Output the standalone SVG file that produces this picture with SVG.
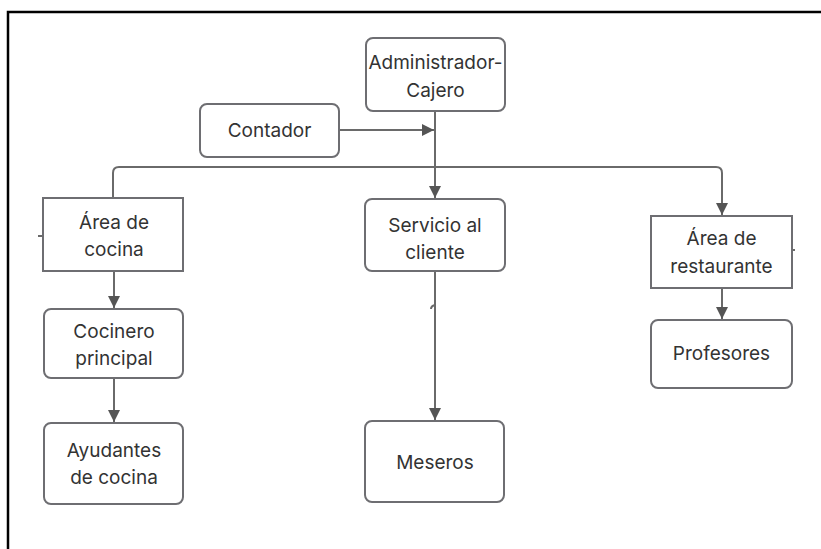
<svg xmlns="http://www.w3.org/2000/svg" width="821" height="549" viewBox="0 0 821 549">
<style>
.box{fill:#fff;stroke:#6e6e72;stroke-width:2}
.t{font-family:Inter,"Liberation Sans",sans-serif;font-size:19px;fill:#333;text-anchor:middle}
.c{fill:none;stroke:#6a6a6a;stroke-width:2}
</style>
<defs>
<marker id="ah" viewBox="0 0 12 12" refX="12" refY="6" markerWidth="12" markerHeight="12" markerUnits="userSpaceOnUse" orient="auto">
<path d="M0,0 L12,6 L0,12 Z" fill="#555"/>
</marker>
</defs>
<rect x="0" y="0" width="821" height="549" fill="#fff"/>
<path d="M8,549 V12 H821" fill="none" stroke="#000" stroke-width="2.5"/>
<g id="connectors">
<path class="c" d="M435,111 V198" marker-end="url(#ah)"/>
<path class="c" d="M339,130 H434" marker-end="url(#ah)"/>
<path class="c" d="M113,198 V173 Q113,167 119,167 H716 Q722,167 722,173 V215" marker-end="url(#ah)"/>
<path class="c" d="M114,271 V308" marker-end="url(#ah)"/>
<path class="c" d="M114,378 V422" marker-end="url(#ah)"/>
<path class="c" d="M435,271 V420" marker-end="url(#ah)"/>
<path class="c" d="M722,288 V319" marker-end="url(#ah)"/>
<path class="c" d="M38,236 H43" stroke-width="1.2"/>
<path class="c" d="M792,250 H795" stroke-width="1.2"/>
<path class="c" d="M435,305 Q431,306 431,309" stroke-width="1.2"/>
</g>
<g id="admin">
<rect class="box" x="366" y="38" width="139" height="73" rx="7"/>
<text class="t" x="435.5" y="69">Administrador-</text>
<text class="t" x="435.5" y="97">Cajero</text>
</g>
<g id="contador">
<rect class="box" x="200" y="104" width="139" height="53" rx="7"/>
<text class="t" x="269.5" y="137">Contador</text>
</g>
<g id="area-cocina">
<rect class="box" x="43" y="198" width="140" height="73"/>
<text class="t" x="114" y="229">Área de</text>
<text class="t" x="114" y="256">cocina</text>
</g>
<g id="cocinero">
<rect class="box" x="44" y="309" width="139" height="69" rx="7"/>
<text class="t" x="114" y="338">Cocinero</text>
<text class="t" x="114" y="365">principal</text>
</g>
<g id="ayudantes">
<rect class="box" x="44" y="423" width="139" height="81" rx="7"/>
<text class="t" x="114" y="457">Ayudantes</text>
<text class="t" x="114" y="484">de cocina</text>
</g>
<g id="servicio">
<rect class="box" x="365" y="199" width="140" height="72" rx="7"/>
<text class="t" x="435" y="232">Servicio al</text>
<text class="t" x="435" y="259">cliente</text>
</g>
<g id="meseros">
<rect class="box" x="365" y="421" width="139" height="81" rx="7"/>
<text class="t" x="435" y="469">Meseros</text>
</g>
<g id="area-restaurante">
<rect class="box" x="651" y="216" width="141" height="72"/>
<text class="t" x="721.5" y="245">Área de</text>
<text class="t" x="721.5" y="273">restaurante</text>
</g>
<g id="profesores">
<rect class="box" x="651" y="320" width="141" height="68" rx="7"/>
<text class="t" x="721.5" y="360">Profesores</text>
</g>
</svg>
